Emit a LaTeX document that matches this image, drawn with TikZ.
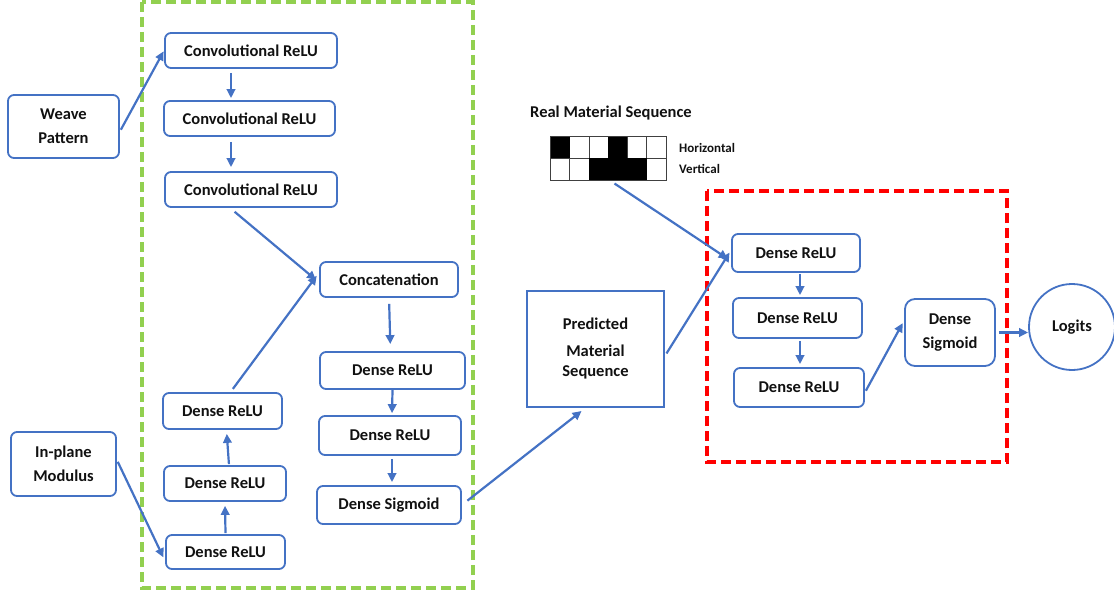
\documentclass[tikz,border=0pt]{standalone}
\usepackage{fontspec}
\setmainfont{Carlito}
\usetikzlibrary{arrows.meta,calc}
\definecolor{bl}{HTML}{4472C4}
\definecolor{gr}{HTML}{92D050}
\definecolor{rd}{HTML}{FF0000}
\definecolor{txt}{HTML}{111111}
\tikzset{
  box/.style={draw=bl, rounded corners=6pt, line width=1.8pt, inner sep=0pt, align=center, text=txt, font=\fontsize{16.5}{19}\selectfont\bfseries},
  sqbox/.style={draw=bl, line width=1.8pt, inner sep=0pt, align=center, text=txt, font=\fontsize{16.5}{19}\selectfont\bfseries},
  lbl/.style={inner sep=0pt, text=txt, font=\fontsize{16.5}{19}\selectfont\bfseries},
  small/.style={inner sep=0pt, anchor=west, text=txt, font=\fontsize{13}{15}\selectfont\bfseries},
  arr/.style={draw=bl, line width=2.2pt, -{Triangle[length=9pt,width=8.5pt]}},
  grframe/.style={draw=gr, line width=3.2pt, dash pattern=on 10pt off 5pt},
  rdframe/.style={draw=rd, line width=3.2pt, dash pattern=on 10pt off 5pt},
  cellline/.style={draw=black!75, line width=1pt},
}
\begin{document}
\begin{tikzpicture}[x=1pt,y=-1pt]
\useasboundingbox (0,0) rectangle (1114,599);
% frames
\draw[grframe] (142,2) rectangle (473,588);
\draw[rdframe] (707,191) rectangle (1007,462);
% left column
\node[box, minimum width=111pt, minimum height=63pt] (weave) at (63.5,126.5) {Weave\\[5pt]Pattern};
\node[box, minimum width=105pt, minimum height=64pt] (inplane) at (63.5,464) {In-plane\\[5pt]Modulus};
\node[box, minimum width=172pt, minimum height=35pt] (conv1) at (251,50.5) {Convolutional ReLU};
\node[box, minimum width=171pt, minimum height=35pt] (conv2) at (249.5,118.5) {Convolutional ReLU};
\node[box, minimum width=172pt, minimum height=35pt] (conv3) at (251,189.5) {Convolutional ReLU};
\node[box, minimum width=119pt, minimum height=36pt] (dl1) at (222.5,411) {Dense ReLU};
\node[box, minimum width=122pt, minimum height=35pt] (dl2) at (225,483.5) {Dense ReLU};
\node[box, minimum width=119pt, minimum height=34pt] (dl3) at (225.5,552) {Dense ReLU};
\node[box, minimum width=138pt, minimum height=35pt] (concat) at (389,279.5) {Concatenation};
\node[box, minimum width=145pt, minimum height=37pt] (dr1) at (392.5,370.5) {Dense ReLU};
\node[box, minimum width=142pt, minimum height=39pt] (dr2) at (390,435.5) {Dense ReLU};
\node[box, minimum width=144pt, minimum height=38pt] (dsig) at (389,505) {Dense Sigmoid};
% predicted
\node[sqbox, minimum width=137pt, minimum height=116pt] (pred) at (595.5,349) {Predicted\\[8pt]Material\\[1pt]Sequence};
% real material sequence
\node[lbl] (real) at (611,113) {Real Material Sequence};
\node[inner sep=0pt, minimum width=115pt, minimum height=43pt] (grid) at (608.5,158.5) {};
\foreach \i in {1,...,5} {
  \draw[cellline] ($(grid.north west)+(\i*19.1667,0)$) -- ($(grid.south west)+(\i*19.1667,0)$);
}
\draw[cellline] (grid.west) -- (grid.east);
\fill[black] (grid.north west) rectangle ++(19.17,21.5);
\fill[black] ($(grid.north west)+(57.5,0)$) rectangle ++(19.17,21.5);
\fill[black] ($(grid.north west)+(38.33,21.5)$) rectangle ++(57.5,21.5);
\draw[cellline] (grid.north west) rectangle (grid.south east);
\node[small] (horiz) at (679,148) {Horizontal};
\node[small] (vert) at (679,169) {Vertical};
% right part
\node[box, minimum width=128pt, minimum height=38pt] (r1) at (796,253) {Dense ReLU};
\node[box, minimum width=129pt, minimum height=40pt] (r2) at (797.5,318) {Dense ReLU};
\node[box, minimum width=130pt, minimum height=39pt] (r3) at (799,387.5) {Dense ReLU};
\node[box, minimum width=90pt, minimum height=67pt, rounded corners=10pt] (rsig) at (950,332.5) {Dense\\[5pt]Sigmoid};
\node[circle, draw=bl, line width=1.8pt, minimum size=86pt, inner sep=0pt, text=txt, font=\fontsize{16.5}{19}\selectfont\bfseries] (logits) at (1072,327) {Logits};
% arrows
\draw[arr, shorten <=2pt, shorten >=1pt] ([yshift=-5pt]weave.east) -- ([yshift=0pt]conv1.west);
\draw[arr, shorten <=4pt, shorten >=2pt] ([xshift=-20pt]conv1.south) -- ([xshift=-18.5pt]conv2.north);
\draw[arr, shorten <=5pt, shorten >=4pt] ([xshift=-18.5pt]conv2.south) -- ([xshift=-20pt]conv3.north);
\draw[arr, shorten <=6pt, shorten >=4pt] ([xshift=-21pt]conv3.south) -- ([yshift=-3pt]concat.west);
\draw[arr, shorten <=4pt, shorten >=4pt] ([xshift=8pt]dl1.north) -- ([yshift=7pt]concat.west);
\draw[arr, shorten <=2pt, shorten >=4pt] ([yshift=4pt]inplane.east) -- ([yshift=-9pt]dl3.west);
\draw[arr, shorten <=1pt, shorten >=4pt] (dl3.north) -- (dl2.south);
\draw[arr, shorten <=1pt, shorten >=4pt] ([xshift=4pt]dl2.north) -- ([xshift=4pt]dl1.south);
\draw[arr, shorten <=6pt, shorten >=7pt] (concat.south) -- ([xshift=-2pt]dr1.north);
\draw[arr, shorten <=0pt, shorten >=2pt] (dr1.south) -- ([xshift=2pt]dr2.north);
\draw[arr, shorten <=3pt, shorten >=3pt] ([xshift=2pt]dr2.south) -- ([xshift=3pt]dsig.north);
\draw[arr, shorten <=7pt, shorten >=5pt] (dsig.east) -- ([xshift=-10pt]pred.south);
\draw[arr, shorten <=3pt, shorten >=3pt] ([yshift=-7pt]pred.east) -- ([yshift=3pt]r1.west);
\draw[arr, shorten <=6pt, shorten >=4pt] ([xshift=1pt]grid.south) -- ([yshift=-8pt]r1.west);
\draw[arr, shorten <=1pt, shorten >=2pt] ([xshift=4pt]r1.south) -- ([xshift=2.5pt]r2.north);
\draw[arr, shorten <=2pt, shorten >=3pt] ([xshift=2.5pt]r2.south) -- ([xshift=1pt]r3.north);
\draw[arr, shorten <=2pt, shorten >=3pt] ([yshift=-5pt]r3.east) -- ([yshift=12pt]rsig.west);
\draw[arr, shorten <=3pt, shorten >=0pt] (rsig.east) -- (rsig.east -| logits.west);
\end{tikzpicture}
\end{document}
